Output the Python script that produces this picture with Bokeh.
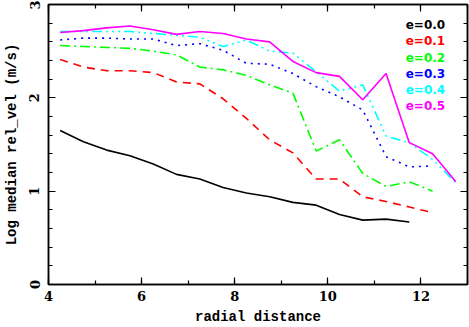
from bokeh.plotting import figure
from bokeh.models import LinearAxis, SingleIntervalTicker, Range1d
from bokeh.core.properties import value
from bokeh.embed import file_html
from bokeh.resources import INLINE

# ---- data ----
radial = [4.25, 4.75, 5.25, 5.75, 6.25, 6.75, 7.25, 7.75, 8.25, 8.75,
          9.25, 9.75, 10.25, 10.75, 11.25, 11.75, 12.25, 12.75]
e00 = [1.65, 1.53, 1.44, 1.38, 1.29, 1.18, 1.13, 1.04, 0.98, 0.94,
       0.88, 0.85, 0.75, 0.69, 0.70, 0.67]
e01 = [2.41, 2.33, 2.29, 2.29, 2.27, 2.17, 2.15, 1.99, 1.78, 1.55,
       1.41, 1.13, 1.13, 0.94, 0.89, 0.83, 0.77]
e02 = [2.56, 2.55, 2.54, 2.53, 2.50, 2.46, 2.33, 2.30, 2.24, 2.14,
       2.05, 1.43, 1.55, 1.19, 1.05, 1.10, 1.00]
e03 = [2.62, 2.64, 2.64, 2.63, 2.63, 2.56, 2.58, 2.51, 2.37, 2.36,
       2.26, 2.12, 2.01, 1.87, 1.37, 1.26, 1.27]
e04 = [2.71, 2.71, 2.71, 2.71, 2.69, 2.67, 2.65, 2.55, 2.62, 2.50,
       2.48, 2.28, 2.07, 2.14, 1.59, 1.52, 1.34, 1.09]
e05 = [2.70, 2.72, 2.75, 2.77, 2.73, 2.68, 2.71, 2.69, 2.63, 2.60,
       2.39, 2.27, 2.23, 1.98, 2.26, 1.52, 1.40, 1.10]
labels = ["e=0.0", "e=0.1", "e=0.2", "e=0.3", "e=0.4", "e=0.5"]
series = [e00, e01, e02, e03, e04, e05]
colors = ["#000000", "#ff0000", "#00ff00", "#0000ff", "#00ffff", "#ff00ff"]
dashes = ["solid", "8 6", "10 4 2 4", "2 5", "10 4 2 4 2 4 2 4", "solid"]

p = figure(width=469, height=327, output_backend="svg", toolbar_location=None,
           x_range=Range1d(4, 13), y_range=Range1d(0, 3),
           x_axis_location=None, y_axis_location=None,
           min_border_left=46, min_border_right=2, min_border_top=4,
           min_border_bottom=42)
p.background_fill_color = "white"
p.border_fill_color = "white"
p.outline_line_color = "black"
p.outline_line_width = 1.5
p.xgrid.visible = False
p.ygrid.visible = False

tick_font = "DejaVu Serif"
lab_font = "Liberation Mono"

def make_axis(kind, show_labels):
    if kind == "x":
        ax = LinearAxis(ticker=SingleIntervalTicker(interval=2, num_minor_ticks=2))
    else:
        ax = LinearAxis(ticker=SingleIntervalTicker(interval=1, num_minor_ticks=5))
    ax.major_tick_in = 7
    ax.major_tick_out = 0
    ax.minor_tick_in = 4
    ax.minor_tick_out = 0
    ax.axis_line_color = "black"
    ax.axis_line_width = 1.5
    ax.major_tick_line_width = 1.2
    ax.minor_tick_line_width = 1.2
    if show_labels:
        ax.major_label_text_font = tick_font
        ax.major_label_text_font_size = "13px"
        ax.major_label_text_font_style = "bold"
        ax.major_label_text_color = "black"
        ax.major_label_standoff = 6
    else:
        ax.major_label_text_font_size = "0px"
        ax.major_label_text_color = None
        ax.major_label_standoff = 0
    return ax

xb = make_axis("x", True)
xb.axis_label = "radial distance"
xb.axis_label_text_font = lab_font
xb.axis_label_text_font_size = "14px"
xb.axis_label_text_font_style = "bold"
xb.axis_label_text_color = "black"
xb.axis_label_standoff = 5
p.add_layout(xb, "below")

yl = make_axis("y", True)
yl.major_label_orientation = "vertical"
yl.axis_label = "Log median rel_vel (m/s)"
yl.axis_label_text_font = lab_font
yl.axis_label_text_font_size = "14px"
yl.axis_label_text_font_style = "bold"
yl.axis_label_text_color = "black"
yl.major_label_standoff = 9
yl.axis_label_standoff = 7
p.add_layout(yl, "left")

p.add_layout(make_axis("x", False), "above")
p.add_layout(make_axis("y", False), "right")

for ys, c, d in zip(series, colors, dashes):
    p.line(radial[:len(ys)], ys, line_color=c, line_width=1.6, line_dash=d)

leg_x = 12.52
leg_y0 = 2.78
leg_dy = 0.174
for i, (lab, c) in enumerate(zip(labels, colors)):
    p.text(x=[leg_x], y=[leg_y0 - i * leg_dy], text=[lab], text_color=c,
           text_font=value("DejaVu Sans"), text_font_size="12px",
           text_font_style="bold", text_align="right", text_baseline="middle")

open("out.html", "w").write(file_html(p, INLINE))
